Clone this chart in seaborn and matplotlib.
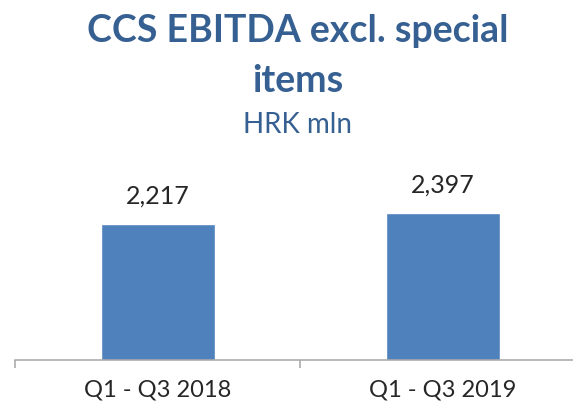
import matplotlib
matplotlib.use("Agg")
import matplotlib.pyplot as plt
import seaborn as sns
import pandas as pd

# Data
periods = ["Q1 - Q3 2018", "Q1 - Q3 2019"]
ebitda = [2217, 2397]

title_lines = ["CCS EBITDA excl. special", "items"]
subtitle = "HRK mln"

bar_color = "#4F81BD"
title_color = "#376092"
axis_color = "#A6A6A6"

sns.set_theme(style="white")
plt.rcParams["font.family"] = ["Lato", "DejaVu Sans"]

df = pd.DataFrame({"period": periods, "ebitda": ebitda})

fig = plt.figure(figsize=(5.73, 4.05), dpi=100)
ax = fig.add_axes([15 / 573, 45 / 405, 570 / 573, 210 / 405])

sns.barplot(data=df, x="period", y="ebitda", color=bar_color, width=0.4,
            saturation=1, ax=ax)

ax.set_xlim(-0.5, 1.5)
ax.set_ylim(0, 3430)
ax.set_xlabel("")
ax.set_ylabel("")
ax.set_yticks([])

# category separators as minor ticks
ax.set_xticks([-0.5, 0.5, 1.5], minor=True)
ax.tick_params(axis="x", which="minor", length=6, width=1.1, color=axis_color,
               direction="out", bottom=True)
ax.tick_params(axis="x", which="major", length=0, pad=14, labelsize=17,
               labelcolor="#262626")

for side in ["top", "right", "left"]:
    ax.spines[side].set_visible(False)
ax.spines["bottom"].set_color(axis_color)
ax.spines["bottom"].set_linewidth(1.1)

ax.bar_label(ax.containers[0], labels=[f"{v:,}" for v in ebitda],
             padding=12, fontsize=18, color="#262626")

# title block
fig.text(0.52, 1 - 42 / 405, title_lines[0], ha="center", va="baseline",
         fontsize=27, fontweight="bold", color=title_color)
fig.text(0.52, 1 - 92 / 405, title_lines[1], ha="center", va="baseline",
         fontsize=27, fontweight="bold", color=title_color)
fig.text(0.52, 1 - 133 / 405, subtitle, ha="center", va="baseline",
         fontsize=20, color=title_color)

fig.savefig("out.png", dpi=100)
